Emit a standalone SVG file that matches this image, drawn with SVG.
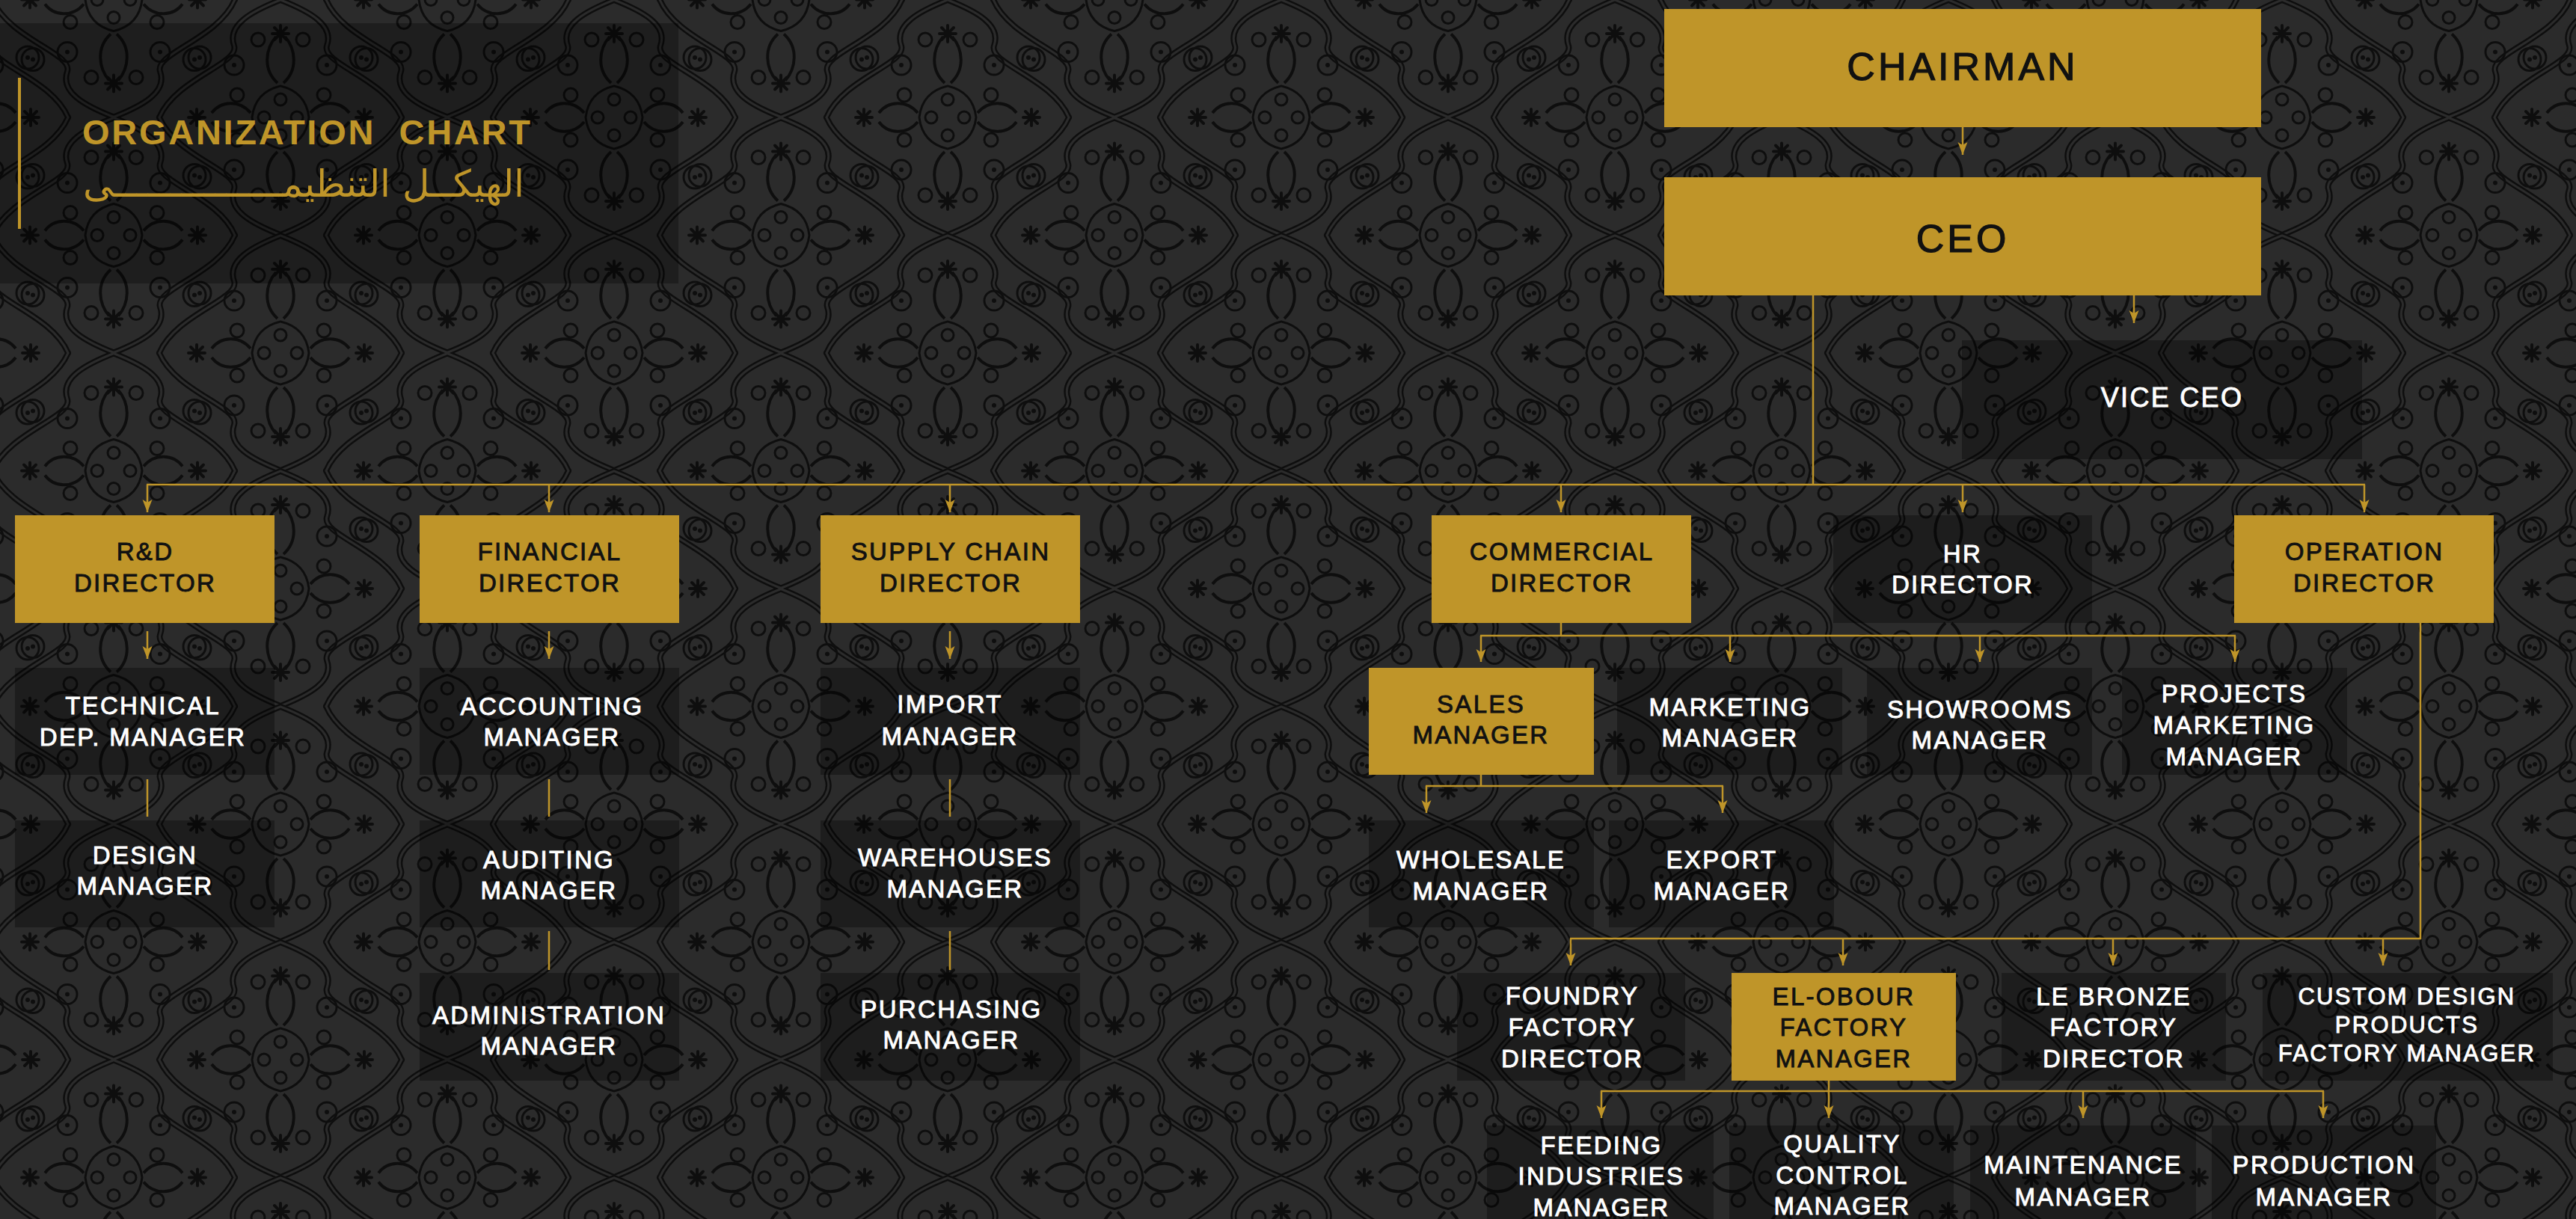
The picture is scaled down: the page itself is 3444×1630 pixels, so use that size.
<svg xmlns="http://www.w3.org/2000/svg" xmlns:xlink="http://www.w3.org/1999/xlink" width="3444" height="1630" viewBox="0 0 3444 1630">
<style>
.gold{fill:#BF9529}
.dk{fill:#000;fill-opacity:.32}
.tw{font-family:"Liberation Sans",Arial,sans-serif;font-size:33px;fill:#fff;stroke:#fff;stroke-width:0.9px;letter-spacing:2.3px;text-anchor:middle}
.tb{font-family:"Liberation Sans",Arial,sans-serif;font-size:33px;fill:#111;stroke:#111;stroke-width:0.9px;letter-spacing:2.3px;text-anchor:middle}
.sm{font-size:31px}
.big{font-size:52px;letter-spacing:4px;stroke-width:1.2px}
.vc{font-size:36px}
.ln{stroke:#BF9529;stroke-width:2.5;fill:none}
.ar{marker-end:url(#ah)}
.pt{stroke:#0e0e0e;fill:none;stroke-width:3}
</style>
<defs>
<marker id="ah" markerUnits="userSpaceOnUse" markerWidth="18" markerHeight="14" viewBox="0 0 18 14" refX="17" refY="6.5" orient="auto">
<path d="M0,0 L17,6.5 L0,13 L4,6.5 Z" fill="#BF9529"/>
</marker>
<g id="fl"><circle r="4" fill="#0e0e0e"/><path d="M0,-11V11M-11,0H11M-8,-8L8,8M-8,8L8,-8" stroke="#0e0e0e" stroke-width="4" stroke-linecap="round"/></g>
<g id="mo">
<g fill="none" stroke-linecap="round">
<path d="M0,-157 C38,-142 72,-124 62,-96 C54,-72 140,-52 162,0 M0,-157 C-38,-142 -72,-124 -62,-96 C-54,-72 -140,-52 -162,0 M0,157 C38,142 72,124 62,96 C54,72 140,52 162,0 M0,157 C-38,142 -72,124 -62,96 C-54,72 -140,52 -162,0" stroke="#0e0e0e" stroke-width="8"/>
<path d="M0,-157 C38,-142 72,-124 62,-96 C54,-72 140,-52 162,0 M0,-157 C-38,-142 -72,-124 -62,-96 C-54,-72 -140,-52 -162,0 M0,157 C38,142 72,124 62,96 C54,72 140,52 162,0 M0,157 C-38,142 -72,124 -62,96 C-54,72 -140,52 -162,0" stroke="#2b2b2b" stroke-width="3"/>
</g>
<g class="pt">
<path d="M0,-42 Q34,-34 38,0 Q34,34 0,42 Q-34,34 -38,0 Q-34,-34 0,-42Z"/>
<circle cx="0" cy="-24" r="8"/><circle cx="0" cy="24" r="8"/><circle cx="-22" cy="0" r="8"/><circle cx="22" cy="0" r="8"/>
<path d="M-40,-6 C-55,-24 -80,-22 -92,-6 M-40,6 C-55,24 -80,22 -92,6 M40,-6 C55,-24 80,-22 92,-6 M40,6 C55,24 80,22 92,6" stroke-width="4"/>
<path d="M-4,-46 C-24,-64 -20,-92 -6,-108 M4,-46 C24,-64 20,-92 6,-108 M-4,46 C-24,64 -20,92 -6,108 M4,46 C24,64 20,92 6,108" stroke-width="4"/>
<circle cx="62" cy="-70" r="13"/><circle cx="-62" cy="-70" r="13"/><circle cx="62" cy="70" r="13"/><circle cx="-62" cy="70" r="13"/>
<circle cx="108" cy="-80" r="15"/><circle cx="-108" cy="-80" r="15"/><circle cx="108" cy="80" r="15"/><circle cx="-108" cy="80" r="15"/>
<circle cx="30" cy="-104" r="9"/><circle cx="-30" cy="-104" r="9"/><circle cx="30" cy="104" r="9"/><circle cx="-30" cy="104" r="9"/>
<circle cx="58" cy="-30" r="9"/><circle cx="-58" cy="-30" r="9"/><circle cx="58" cy="30" r="9"/><circle cx="-58" cy="30" r="9"/>
</g>
<g fill="#0e0e0e"><circle cx="108" cy="-80" r="3"/><circle cx="-108" cy="-80" r="3"/><circle cx="108" cy="80" r="3"/><circle cx="-108" cy="80" r="3"/><circle cx="62" cy="-70" r="3"/><circle cx="-62" cy="-70" r="3"/><circle cx="62" cy="70" r="3"/><circle cx="-62" cy="70" r="3"/></g>
<use href="#fl" x="0" y="-112"/><use href="#fl" x="0" y="112"/><use href="#fl" x="-112" y="0"/><use href="#fl" x="112" y="0"/>
</g>
<pattern id="dam" patternUnits="userSpaceOnUse" x="375" y="157" width="446" height="315">
<rect width="446" height="315" fill="#2b2b2b"/>
<use href="#mo" x="0" y="0"/><use href="#mo" x="446" y="0"/><use href="#mo" x="0" y="315"/><use href="#mo" x="446" y="315"/><use href="#mo" x="223" y="157.5"/>
</pattern>
</defs>

<rect width="3444" height="1630" fill="#2b2b2b"/>
<rect width="3444" height="1630" fill="url(#dam)"/>

<g id="title">
<rect x="0" y="31" width="907" height="348" fill="#000" fill-opacity="0.3"/>
<rect x="24" y="104" width="4" height="202" class="gold"/>
<text x="110" y="193" xml:space="preserve" textLength="599" lengthAdjust="spacing" font-family="'Liberation Sans',Arial,sans-serif" font-weight="bold" font-size="47" fill="#BF9529">ORGANIZATION  CHART</text>
<text x="701" y="263" font-family="'DejaVu Sans',sans-serif" font-weight="200" font-size="50" fill="#BF9529" text-anchor="end">الهيكــل التنظيمـــــــــــــــى</text>
</g>

<g id="connectors">
<line class="ln ar" x1="2624" y1="170" x2="2624" y2="207"/>
<polyline class="ln" points="2424,395 2424,648"/>
<line class="ln ar" x1="2853" y1="395" x2="2853" y2="432"/>
<line class="ln" x1="196" y1="648" x2="3162" y2="648"/>
<line class="ln ar" x1="197" y1="648" x2="197" y2="685"/>
<line class="ln ar" x1="734" y1="648" x2="734" y2="685"/>
<line class="ln ar" x1="1270" y1="648" x2="1270" y2="685"/>
<line class="ln ar" x1="2087" y1="648" x2="2087" y2="685"/>
<line class="ln ar" x1="2624" y1="648" x2="2624" y2="685"/>
<line class="ln ar" x1="3161" y1="648" x2="3161" y2="685"/>
<line class="ln ar" x1="197" y1="844" x2="197" y2="881"/>
<line class="ln ar" x1="734" y1="844" x2="734" y2="881"/>
<line class="ln ar" x1="1270" y1="844" x2="1270" y2="881"/>
<line class="ln" x1="197" y1="1042" x2="197" y2="1092"/>
<line class="ln" x1="734" y1="1042" x2="734" y2="1092"/>
<line class="ln" x1="1270" y1="1042" x2="1270" y2="1092"/>
<line class="ln" x1="734" y1="1245" x2="734" y2="1297"/>
<line class="ln" x1="1270" y1="1245" x2="1270" y2="1297"/>
<line class="ln" x1="2087" y1="832" x2="2087" y2="850"/>
<line class="ln" x1="1979" y1="850" x2="2989" y2="850"/>
<line class="ln ar" x1="1980" y1="850" x2="1980" y2="885"/>
<line class="ln ar" x1="2313" y1="850" x2="2313" y2="885"/>
<line class="ln ar" x1="2647" y1="850" x2="2647" y2="885"/>
<line class="ln ar" x1="2988" y1="850" x2="2988" y2="885"/>
<line class="ln" x1="1980" y1="1036" x2="1980" y2="1051"/>
<line class="ln" x1="1906" y1="1051" x2="2304" y2="1051"/>
<line class="ln ar" x1="1907" y1="1051" x2="1907" y2="1087"/>
<line class="ln ar" x1="2303" y1="1051" x2="2303" y2="1087"/>
<polyline class="ln" points="3236,832 3236,1255 2099,1255"/>
<line class="ln ar" x1="2100" y1="1255" x2="2100" y2="1291"/>
<line class="ln ar" x1="2464" y1="1255" x2="2464" y2="1291"/>
<line class="ln ar" x1="2825" y1="1255" x2="2825" y2="1291"/>
<line class="ln ar" x1="3186" y1="1255" x2="3186" y2="1291"/>
<line class="ln" x1="2445" y1="1445" x2="2445" y2="1459"/>
<line class="ln" x1="2140" y1="1459" x2="3107" y2="1459"/>
<line class="ln ar" x1="2141" y1="1459" x2="2141" y2="1495"/>
<line class="ln ar" x1="2445" y1="1459" x2="2445" y2="1495"/>
<line class="ln ar" x1="2785" y1="1459" x2="2785" y2="1495"/>
<line class="ln ar" x1="3106" y1="1459" x2="3106" y2="1495"/>
</g>

<g id="chairman"><rect x="2225" y="12" width="798" height="158" class="gold"/><text class="tb big" x="2624" y="107">CHAIRMAN</text></g>
<g id="ceo"><rect x="2225" y="237" width="798" height="158" class="gold"/><text class="tb big" x="2624" y="337">CEO</text></g>
<g id="vice-ceo"><rect x="2623" y="455" width="535" height="159" class="dk"/><text class="tw vc" x="2904" y="544">VICE CEO</text></g>

<g id="rd-director"><rect x="20" y="689" width="347" height="144" class="gold"/><text class="tb" x="194"><tspan x="194" y="749">R&amp;D</tspan><tspan x="194" y="791">DIRECTOR</tspan></text></g>
<g id="financial-director"><rect x="561" y="689" width="347" height="144" class="gold"/><text class="tb"><tspan x="735" y="749">FINANCIAL</tspan><tspan x="735" y="791">DIRECTOR</tspan></text></g>
<g id="supply-chain-director"><rect x="1097" y="689" width="347" height="144" class="gold"/><text class="tb"><tspan x="1271" y="749">SUPPLY CHAIN</tspan><tspan x="1271" y="791">DIRECTOR</tspan></text></g>
<g id="commercial-director"><rect x="1914" y="689" width="347" height="144" class="gold"/><text class="tb"><tspan x="2088" y="749">COMMERCIAL</tspan><tspan x="2088" y="791">DIRECTOR</tspan></text></g>
<g id="hr-director"><rect x="2451" y="689" width="346" height="144" class="dk"/><text class="tw"><tspan x="2624" y="752">HR</tspan><tspan x="2624" y="793">DIRECTOR</tspan></text></g>
<g id="operation-director"><rect x="2987" y="689" width="347" height="144" class="gold"/><text class="tb"><tspan x="3161" y="749">OPERATION</tspan><tspan x="3161" y="791">DIRECTOR</tspan></text></g>

<g id="technical-manager"><rect x="20" y="893" width="347" height="143" class="dk"/><text class="tw"><tspan x="191" y="955">TECHNICAL</tspan><tspan x="191" y="997">DEP. MANAGER</tspan></text></g>
<g id="design-manager"><rect x="20" y="1097" width="347" height="143" class="dk"/><text class="tw"><tspan x="194" y="1155">DESIGN</tspan><tspan x="194" y="1196">MANAGER</tspan></text></g>
<g id="accounting-manager"><rect x="561" y="893" width="347" height="143" class="dk"/><text class="tw"><tspan x="738" y="956">ACCOUNTING</tspan><tspan x="738" y="997">MANAGER</tspan></text></g>
<g id="auditing-manager"><rect x="561" y="1097" width="347" height="143" class="dk"/><text class="tw"><tspan x="734" y="1161">AUDITING</tspan><tspan x="734" y="1202">MANAGER</tspan></text></g>
<g id="administration-manager"><rect x="561" y="1301" width="347" height="144" class="dk"/><text class="tw"><tspan x="734" y="1369">ADMINISTRATION</tspan><tspan x="734" y="1410">MANAGER</tspan></text></g>
<g id="import-manager"><rect x="1097" y="893" width="347" height="143" class="dk"/><text class="tw"><tspan x="1270" y="953">IMPORT</tspan><tspan x="1270" y="996">MANAGER</tspan></text></g>
<g id="warehouses-manager"><rect x="1097" y="1097" width="347" height="143" class="dk"/><text class="tw"><tspan x="1277" y="1158">WAREHOUSES</tspan><tspan x="1277" y="1200">MANAGER</tspan></text></g>
<g id="purchasing-manager"><rect x="1097" y="1301" width="347" height="144" class="dk"/><text class="tw"><tspan x="1272" y="1361">PURCHASING</tspan><tspan x="1272" y="1402">MANAGER</tspan></text></g>

<g id="sales-manager"><rect x="1830" y="893" width="301" height="143" class="gold"/><text class="tb"><tspan x="1980" y="953">SALES</tspan><tspan x="1980" y="994">MANAGER</tspan></text></g>
<g id="marketing-manager"><rect x="2162" y="893" width="301" height="143" class="dk"/><text class="tw"><tspan x="2313" y="957">MARKETING</tspan><tspan x="2313" y="998">MANAGER</tspan></text></g>
<g id="showrooms-manager"><rect x="2496" y="893" width="301" height="143" class="dk"/><text class="tw"><tspan x="2647" y="960">SHOWROOMS</tspan><tspan x="2647" y="1001">MANAGER</tspan></text></g>
<g id="projects-marketing-manager"><rect x="2837" y="893" width="301" height="143" class="dk"/><text class="tw"><tspan x="2987" y="939">PROJECTS</tspan><tspan x="2987" y="981">MARKETING</tspan><tspan x="2987" y="1023">MANAGER</tspan></text></g>
<g id="wholesale-manager"><rect x="1830" y="1097" width="301" height="143" class="dk"/><text class="tw"><tspan x="1980" y="1161">WHOLESALE</tspan><tspan x="1980" y="1203">MANAGER</tspan></text></g>
<g id="export-manager"><rect x="2151" y="1097" width="301" height="143" class="dk"/><text class="tw"><tspan x="2302" y="1161">EXPORT</tspan><tspan x="2302" y="1203">MANAGER</tspan></text></g>

<g id="foundry-factory-director"><rect x="1948" y="1301" width="305" height="144" class="dk"/><text class="tw"><tspan x="2102" y="1343">FOUNDRY</tspan><tspan x="2102" y="1385">FACTORY</tspan><tspan x="2102" y="1427">DIRECTOR</tspan></text></g>
<g id="el-obour-factory-manager"><rect x="2315" y="1301" width="300" height="144" class="gold"/><text class="tb"><tspan x="2465" y="1344">EL-OBOUR</tspan><tspan x="2465" y="1385">FACTORY</tspan><tspan x="2465" y="1427">MANAGER</tspan></text></g>
<g id="le-bronze-factory-director"><rect x="2676" y="1301" width="300" height="144" class="dk"/><text class="tw"><tspan x="2826" y="1344">LE BRONZE</tspan><tspan x="2826" y="1385">FACTORY</tspan><tspan x="2826" y="1427">DIRECTOR</tspan></text></g>
<g id="custom-design-factory-manager"><rect x="3025" y="1301" width="388" height="144" class="dk"/><text class="tw sm"><tspan x="3218" y="1343">CUSTOM DESIGN</tspan><tspan x="3218" y="1381">PRODUCTS</tspan><tspan x="3218" y="1419">FACTORY MANAGER</tspan></text></g>

<g id="feeding-industries-manager"><rect x="1988" y="1505" width="303" height="144" class="dk"/><text class="tw"><tspan x="2141" y="1543">FEEDING</tspan><tspan x="2141" y="1584">INDUSTRIES</tspan><tspan x="2141" y="1626">MANAGER</tspan></text></g>
<g id="quality-control-manager"><rect x="2312" y="1505" width="300" height="144" class="dk"/><text class="tw"><tspan x="2463" y="1541">QUALITY</tspan><tspan x="2463" y="1583">CONTROL</tspan><tspan x="2463" y="1624">MANAGER</tspan></text></g>
<g id="maintenance-manager"><rect x="2634" y="1505" width="302" height="144" class="dk"/><text class="tw"><tspan x="2785" y="1569">MAINTENANCE</tspan><tspan x="2785" y="1612">MANAGER</tspan></text></g>
<g id="production-manager"><rect x="2957" y="1505" width="300" height="144" class="dk"/><text class="tw"><tspan x="3107" y="1569">PRODUCTION</tspan><tspan x="3107" y="1612">MANAGER</tspan></text></g>
</svg>
